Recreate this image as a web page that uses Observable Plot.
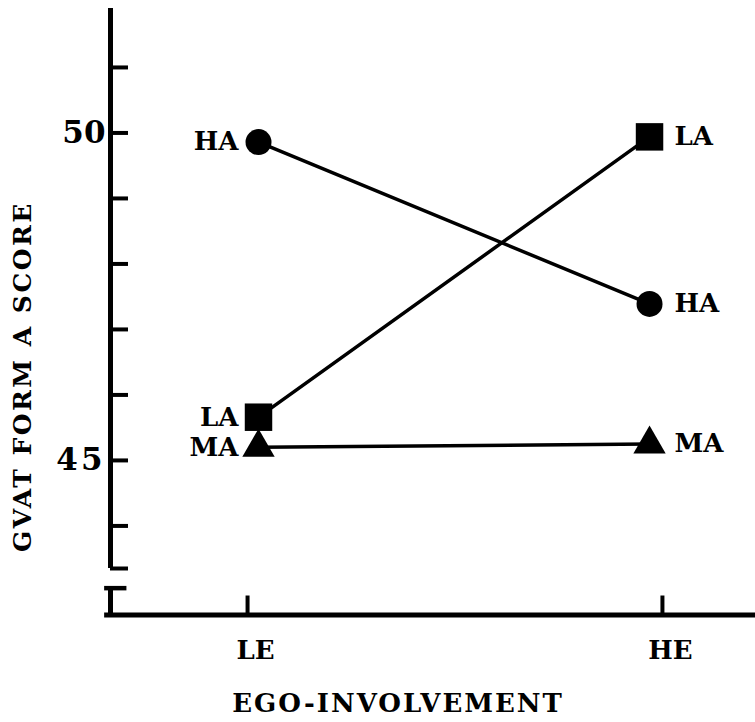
<!DOCTYPE html>
<html>
<head>
<meta charset="utf-8">
<script src="https://cdn.jsdelivr.net/npm/d3@7"></script>
<script src="https://cdn.jsdelivr.net/npm/@observablehq/plot@0.6"></script>
<style>
  html, body { margin: 0; padding: 0; background: #fff; }
  #chart svg { display: block; }
</style>
</head>
<body>
<div id="chart"></div>
<script>
// ---- data ----
const series = ["HA", "LA", "MA"];
const levels = ["LE", "HE"];
const scoreLE = [49.86, 45.66, 45.20];
const scoreHE = [47.39, 49.94, 45.25];
const symbols = ["circle", "square", "triangle"];
const symbolR = [13, 15.5, 12];
const yTicks = [43.35, 44, 45, 46, 47, 48, 49, 50, 51];
const yTickLabelValues = [50, 45];
const yTickLabels = ["50", "45"];
const xTickPos = [-0.028, 1.033];
const xTitle = "EGO-INVOLVEMENT";
const yTitle = "GVAT FORM A SCORE";

// ---- table ----
const rows = series.flatMap((s, i) => [
  {s, level: "LE", x: 0, y: scoreLE[i]},
  {s, level: "HE", x: 1, y: scoreHE[i]}
]);

const xDom = [-0.3785, 1.271];
const yDom = [43.35, 51.9];
const xAxisY = 42.64;
const font = "DejaVu Serif";

const marks = [
  // y axis line
  Plot.ruleX([xDom[0]], {y1: yDom[1], y2: yDom[0], stroke: "black", strokeWidth: 5}),
  // axis break
  Plot.ruleX([xDom[0]], {y1: 43.05, y2: xAxisY, stroke: "black", strokeWidth: 5}),
  Plot.ruleY([43.05], {x1: xDom[0] - 0.015, x2: xDom[0] + 0.042, stroke: "black", strokeWidth: 4.5}),
  // y ticks
  Plot.ruleY(yTicks, {x1: xDom[0], x2: xDom[0] + 0.046, stroke: "black", strokeWidth: 4}),
  Plot.text(yTickLabelValues, {x: xDom[0], y: d => d, text: (d, i) => yTickLabels[i], textAnchor: "end", dx: -5,
    fontSize: 31, fontWeight: "bold", fontFamily: font}),
  // x axis line
  Plot.ruleY([xAxisY], {x1: xDom[0] - 0.015, x2: xDom[1], stroke: "black", strokeWidth: 5}),
  // x ticks
  Plot.ruleX(xTickPos, {y1: xAxisY, y2: xAxisY + 0.29, stroke: "black", strokeWidth: 4}),
  Plot.text(levels, {x: (d, i) => xTickPos[i], y: xAxisY, dy: 36, dx: 8, text: d => d,
    fontSize: 26, fontWeight: "bold", fontFamily: font}),
  // titles
  Plot.text([xTitle], {x: 0.357, y: 41.29, text: d => d,
    fontSize: 26, fontFamily: font, fontWeight: "bold"}),
  Plot.text([yTitle], {x: -0.601, y: 46.28, rotate: -90, text: d => d,
    fontSize: 25, fontFamily: font, fontWeight: "bold"}),
  // series lines
  Plot.line(rows, {x: "x", y: "y", z: "s", stroke: "black", strokeWidth: 3.5}),
  // markers
  ...series.map((s, i) => Plot.dot(rows.filter(d => d.s === s), {x: "x", y: "y", symbol: symbols[i], r: symbolR[i], fill: "black", stroke: "none"})),
  // point labels
  Plot.text(rows.filter(d => d.level === "LE"), {x: "x", y: "y", text: "s", textAnchor: "end", dx: -20,
    fontSize: 26, fontWeight: "bold", fontFamily: font}),
  Plot.text(rows.filter(d => d.level === "HE"), {x: "x", y: "y", text: "s", textAnchor: "start", dx: 25,
    fontSize: 26, fontWeight: "bold", fontFamily: font})
];

const chart = Plot.plot({
  width: 755,
  height: 722,
  marginLeft: 110,
  marginRight: 0,
  marginTop: 8,
  marginBottom: 154,
  style: {background: "#fff", color: "black", fontFamily: font},
  x: {type: "linear", domain: xDom, axis: null},
  y: {type: "linear", domain: yDom, axis: null},
  marks
});

d3.select(chart).selectAll("text").each(function() {
  const t = this.textContent;
  if (t === xTitle) this.style.letterSpacing = "2px";
  if (t === yTitle) this.style.letterSpacing = "2.5px";
  if (t === "45") this.style.letterSpacing = "3px";
});
document.getElementById("chart").appendChild(chart);
</script>
</body>
</html>
